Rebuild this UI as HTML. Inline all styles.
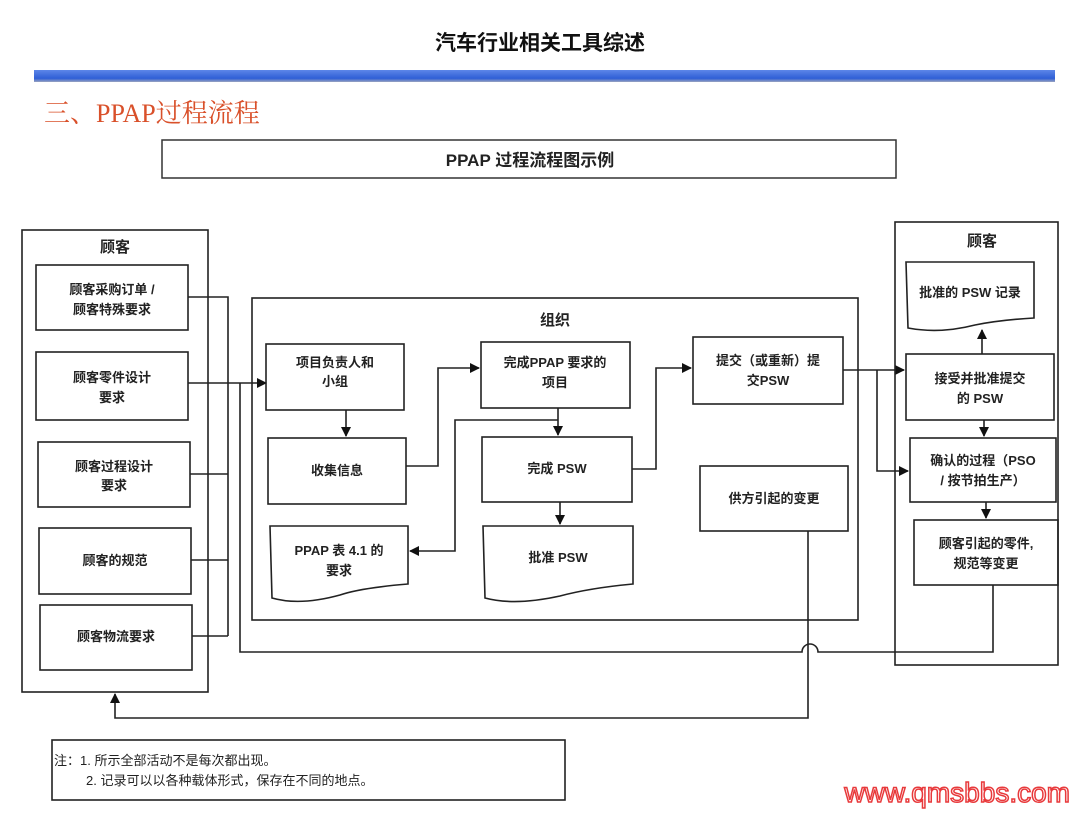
<!DOCTYPE html>
<html><head><meta charset="utf-8"><style>
body{margin:0;background:#fff;}
svg text{font-family:"Liberation Sans","Noto Sans CJK SC",sans-serif;fill:#222;}
</style></head><body>
<svg width="1080" height="810" viewBox="0 0 1080 810" xmlns="http://www.w3.org/2000/svg">
<defs>
<linearGradient id="bar" x1="0" y1="0" x2="0" y2="1"><stop offset="0" stop-color="#5d86e8"/><stop offset="0.7" stop-color="#2f5fd6"/><stop offset="1" stop-color="#9aa4c0"/></linearGradient>
<marker id="a" markerWidth="10" markerHeight="10" refX="9" refY="5" orient="auto" markerUnits="userSpaceOnUse"><path d="M0,0 L10,5 L0,10 z" fill="#111"/></marker>
</defs>
<text x="540" y="50" text-anchor="middle" font-size="21" font-weight="bold" style="fill:#111">汽车行业相关工具综述</text>
<rect x="34" y="70" width="1021" height="12" fill="url(#bar)"/>
<text x="44" y="122" font-size="26" style="fill:#d9502a;font-family:'Liberation Serif','Noto Serif CJK SC',serif">三、PPAP过程流程</text>
<rect x="162" y="140" width="734" height="38" fill="none" stroke="#333" stroke-width="1.5"/>
<text x="530" y="166" text-anchor="middle" font-size="17" font-weight="bold">PPAP 过程流程图示例</text>
<g fill="none" stroke="#222" stroke-width="1.6">
<rect x="22" y="230" width="186" height="462"/>
<rect x="36" y="265" width="152" height="65"/>
<rect x="36" y="352" width="152" height="68"/>
<rect x="38" y="442" width="152" height="65"/>
<rect x="39" y="528" width="152" height="66"/>
<rect x="40" y="605" width="152" height="65"/>
<path d="M188,297 H228 V636 M190,474 H228 M191,560 H228 M192,636 H228"/>
<path d="M188,383 H266" marker-end="url(#a)"/>
<path d="M240,383 V652 H802 A8,8 0 0 1 818,652 H993 V585"/>
<rect x="252" y="298" width="606" height="322"/>
<rect x="266" y="344" width="138" height="66"/>
<rect x="268" y="438" width="138" height="66"/>
<path d="M270,526 H408 V584 Q360,588 340,595 Q300,606 272,598 Z"/>
<rect x="481" y="342" width="149" height="66"/>
<rect x="482" y="437" width="150" height="65"/>
<path d="M483,526 H633 V584 Q590,588 560,596 Q515,606 485,598 Z"/>
<rect x="693" y="337" width="150" height="67"/>
<rect x="700" y="466" width="148" height="65"/>
<path d="M346,410 V436" marker-end="url(#a)"/>
<path d="M406,466 H438 V368 H479" marker-end="url(#a)"/>
<path d="M558,408 V435" marker-end="url(#a)"/>
<path d="M558,420 H455 V551 H410" marker-end="url(#a)"/>
<path d="M560,502 V524" marker-end="url(#a)"/>
<path d="M632,469 H656 V368 H691" marker-end="url(#a)"/>
<path d="M843,370 H904" marker-end="url(#a)"/>
<path d="M877,370 V471 H908" marker-end="url(#a)"/>
<path d="M808,531 V718 H115 V694" marker-end="url(#a)"/>
<rect x="895" y="222" width="163" height="443"/>
<path d="M906,262 H1034 V318 Q1000,320 975,325 Q940,334 908,328 Z"/>
<rect x="906" y="354" width="148" height="66"/>
<rect x="910" y="438" width="146" height="64"/>
<rect x="914" y="520" width="144" height="65"/>
<path d="M982,354 V330" marker-end="url(#a)"/>
<path d="M984,420 V436" marker-end="url(#a)"/>
<path d="M986,502 V518" marker-end="url(#a)"/>
<rect x="52" y="740" width="513" height="60"/>
</g>
<g font-size="13" text-anchor="middle" font-weight="bold" style="fill:#333">
<text x="115" y="252" font-size="15">顾客</text>
<text x="112" y="294">顾客采购订单 /</text><text x="112" y="314">顾客特殊要求</text>
<text x="112" y="382">顾客零件设计</text><text x="112" y="402">要求</text>
<text x="114" y="471">顾客过程设计</text><text x="114" y="490">要求</text>
<text x="115" y="565">顾客的规范</text>
<text x="116" y="641">顾客物流要求</text>
<text x="555" y="325" font-size="15">组织</text>
<text x="335" y="367">项目负责人和</text><text x="335" y="386">小组</text>
<text x="337" y="475">收集信息</text>
<text x="339" y="555">PPAP 表 4.1 的</text><text x="339" y="575">要求</text>
<text x="555" y="367">完成PPAP 要求的</text><text x="555" y="387">项目</text>
<text x="557" y="473">完成 PSW</text>
<text x="558" y="562">批准 PSW</text>
<text x="768" y="365">提交（或重新）提</text><text x="768" y="385">交PSW</text>
<text x="774" y="503">供方引起的变更</text>
<text x="982" y="246" font-size="15">顾客</text>
<text x="970" y="297">批准的 PSW 记录</text>
<text x="980" y="383">接受并批准提交</text><text x="980" y="403">的 PSW</text>
<text x="983" y="465">确认的过程（PSO</text><text x="983" y="485">/ 按节拍生产）</text>
<text x="986" y="548">顾客引起的零件,</text><text x="986" y="568">规范等变更</text>
</g>
<g font-size="13" style="fill:#333">
<text x="54" y="765">注：1. 所示全部活动不是每次都出现。</text>
<text x="86" y="785">2. 记录可以以各种载体形式，保存在不同的地点。</text>
</g>
<text x="1070" y="802" text-anchor="end" font-size="28" style="fill:#fff;stroke:#e8393b;stroke-width:1.5">www.qmsbbs.com</text>
</svg>
</body></html>
